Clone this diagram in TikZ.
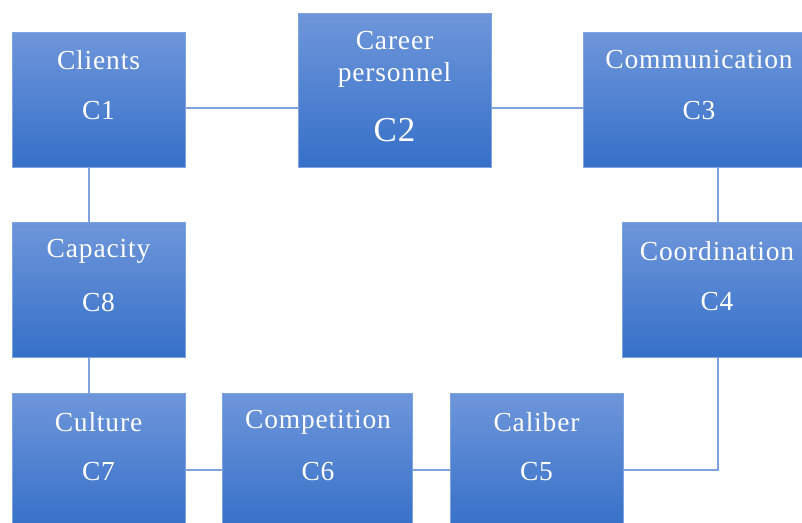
\documentclass[tikz,border=0pt]{standalone}
\usepackage{fontspec}
\setmainfont{Liberation Serif}[LetterSpace=3]
\definecolor{boxtop}{HTML}{6E96DA}
\definecolor{boxbot}{HTML}{3670C8}
\definecolor{boxedge}{HTML}{7FA2E0}
\definecolor{linkcol}{HTML}{7FA2E0}
\tikzset{
  cbox/.style={rectangle, draw=boxedge, line width=0.8pt, top color=boxtop, bottom color=boxbot, inner sep=0pt},
  ctext/.style={text=white, font=\fontsize{27.5}{27.5}\selectfont, inner sep=0pt},
  link/.style={draw=linkcol, line width=2.2pt},
}
\begin{document}
\begin{tikzpicture}[x=1pt,y=-1pt]
\useasboundingbox (0,0) rectangle (802,522);
\clip (0,0) rectangle (802,522);
\fill[white] (0,0) rectangle (802,522);
% boxes
\node[cbox, minimum width=173pt, minimum height=135pt] (c1) at (98.5,99.5) {};
\node[cbox, minimum width=193pt, minimum height=154pt] (c2) at (394.5,90) {};
\node[cbox, minimum width=232pt, minimum height=135pt] (c3) at (699,99.5) {};
\node[cbox, minimum width=190pt, minimum height=135pt] (c4) at (717,289.5) {};
\node[cbox, minimum width=173pt, minimum height=135pt] (c5) at (536.5,460.5) {};
\node[cbox, minimum width=190pt, minimum height=135pt] (c6) at (317,460.5) {};
\node[cbox, minimum width=173pt, minimum height=135pt] (c7) at (98.5,460.5) {};
\node[cbox, minimum width=173pt, minimum height=135pt] (c8) at (98.5,289.5) {};
% connectors
\coordinate (bend) at (718,470);
\draw[link] (c1.east |- 0,108) -- (c2.west |- 0,108);
\draw[link] (c2.east |- 0,108) -- (c3.west |- 0,108);
\draw[link] (c3.south -| bend) -- (c4.north -| bend);
\draw[link] (c4.south -| bend) -- (bend) -- (c5.east |- bend);
\draw[link] (c6.east |- bend) -- (c5.west |- bend);
\draw[link] (c7.east |- bend) -- (c6.west |- bend);
\draw[link] ([xshift=-9.5pt]c1.south) -- ([xshift=-9.5pt]c8.north);
\draw[link] ([xshift=-9.5pt]c8.south) -- ([xshift=-9.5pt]c7.north);
% texts
\node[ctext] (t1a) at (98.5,60) {Clients};
\node[ctext] (t1b) at (98.5,111) {C1};
\node[ctext] (t2a) at (394.5,41) {Career};
\node[ctext] (t2b) at (394.5,75) {personnel};
\node[ctext, font=\fontsize{35}{35}\selectfont] (t2c) at (394.5,130) {C2};
\node[ctext] (t3a) at (699,60) {Communication};
\node[ctext] (t3b) at (699,111) {C3};
\node[ctext] (t4a) at (717,251) {Coordination};
\node[ctext] (t4b) at (717,302) {C4};
\node[ctext] (t8a) at (98.5,251) {Capacity};
\node[ctext] (t8b) at (98.5,302) {C8};
\node[ctext] (t7a) at (98.5,422) {Culture};
\node[ctext] (t7b) at (98.5,472) {C7};
\node[ctext] (t6a) at (318,422) {Competition};
\node[ctext] (t6b) at (318,472) {C6};
\node[ctext] (t5a) at (536.5,422) {Caliber};
\node[ctext] (t5b) at (536.5,472) {C5};
\end{tikzpicture}
\end{document}
